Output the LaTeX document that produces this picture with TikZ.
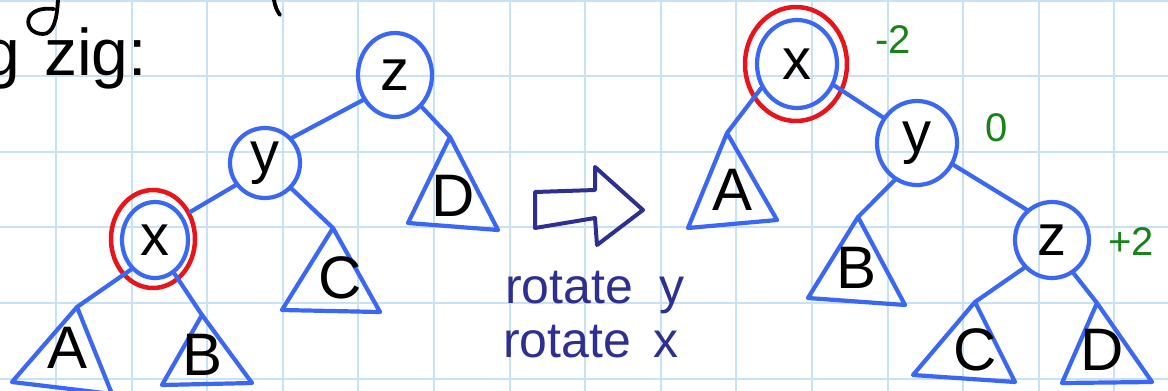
\documentclass[tikz,border=0pt]{standalone}
\usepackage{fontspec}
\setmainfont{Liberation Sans}
\usetikzlibrary{shapes.geometric}
\definecolor{gridc}{RGB}{200,226,245}
\definecolor{tblue}{RGB}{59,103,245}
\definecolor{tred}{RGB}{232,20,28}
\definecolor{tink}{RGB}{45,48,145}
\definecolor{tgreen}{RGB}{25,130,25}
\begin{document}
\begin{tikzpicture}[x=1pt,y=-1pt,line cap=round,line join=round,
  bnode/.style={ellipse,draw=tblue,line width=4.2pt,inner sep=0pt,font=\fontsize{58}{60}\selectfont},
  rnode/.style={ellipse,draw=tred,line width=4.5pt,inner sep=0pt},
  link/.style={draw=tblue,line width=4.2pt},
  tri/.style={draw=tblue,line width=4.2pt},
  leaf/.style={font=\fontsize{60}{62}\selectfont,inner sep=0pt},
  bal/.style={text=tgreen,font=\fontsize{40}{42}\selectfont,inner sep=0pt},
  ink/.style={text=tink,font=\fontsize{50}{52}\selectfont,inner sep=0pt},
  hand/.style={draw=black,line width=3.8pt}]
\useasboundingbox (0,0) rectangle (1168,391);
\clip (0,0) rectangle (1168,391);
\fill[white] (0,0) rectangle (1168,391);
% grid
\foreach \i in {0,...,14} \draw[gridc,line width=2pt] ({56+75.6*\i},0) -- ({56+75.6*\i},391);
\foreach \j in {0,...,5} \draw[gridc,line width=2pt] (0,{0.6+75.6*\j}) -- (1168,{0.6+75.6*\j});
% fragments of the line above
\draw[hand] (58,0) .. controls (57,20) and (53,34) .. (43,34) .. controls (31,34) and (25,24) .. (30,16) .. controls (35,9) and (45,8) .. (54,9);
\draw[hand] (274,0) .. controls (275,6) and (277,11) .. (280,15);
% heading
\node[font=\fontsize{66}{68}\selectfont,anchor=base east,inner sep=0pt] (head) at (147,75) {zig\hspace{24pt}zig:};
% ---------- left tree ----------
\node[bnode,minimum width=74pt,minimum height=84pt] (zl) at (395,75) {z};
\node[bnode,minimum width=70pt,minimum height=70pt] (yl) at (265,163) {y};
\node[bnode,minimum width=66pt,minimum height=76pt] (xl) at (155,240) {x};
\node[rnode,minimum width=84pt,minimum height=98pt] (xlr) at (153,239) {};
\coordinate (Aa) at (77,307); \coordinate (Ab) at (12,382); \coordinate (Ac) at (112,394);
\coordinate (Ba) at (202,315); \coordinate (Bb) at (162,385); \coordinate (Bc) at (252,383);
\coordinate (Ca) at (333,228); \coordinate (Cb) at (282,310); \coordinate (Cc) at (380,312);
\coordinate (Da) at (450,137); \coordinate (Db) at (408,223); \coordinate (Dc) at (498,230);
\draw[tri] (Aa) -- (Ab) -- (Ac) -- cycle;
\draw[tri] (Ba) -- (Bb) -- (Bc) -- cycle;
\draw[tri] (Ca) -- (Cb) -- (Cc) -- cycle;
\draw[tri] (Da) -- (Db) -- (Dc) -- cycle;
\node[leaf] (Al) at (68,348) {A};
\node[leaf] (Bl) at (203,355) {B};
\node[leaf] (Cl) at (340,278) {C};
\node[leaf] (Dl) at (453,196) {D};
\draw[link] (zl.218) -- (yl.43);
\draw[link] (yl.217) -- (xlr.36);
\draw[link] (yl.-44) -- (Ca);
\draw[link] (zl.-50) -- (Da);
\draw[link] (xl.231) -- (Aa);
\draw[link] (xl.-60) -- (Ba);
% ---------- arrow ----------
\draw[draw=tink,line width=4pt] (535,192) -- (595,190) -- (595,167) -- (643,210) -- (597,245) -- (595,218) -- (535,228) -- cycle;
\node[ink,anchor=base west] (r1) at (505,303) {rotate\hspace{26pt}y};
\node[ink,anchor=base west] (r2) at (503,357) {rotate\hspace{22pt}x};
% ---------- right tree ----------
\node[bnode,minimum width=80pt,minimum height=88pt] (xr) at (797,64) {x};
\node[rnode,minimum width=102pt,minimum height=114pt] (xrr) at (796,64) {};
\node[bnode,minimum width=80pt,minimum height=84pt] (yr) at (917,143) {y};
\node[bnode,minimum width=74pt,minimum height=76pt] (zr) at (1052,240) {z};
\node[bal] (b1) at (893,40) {-2};
\node[bal] (b2) at (997,128) {0};
\node[bal] (b3) at (1131,242) {+2};
\coordinate (Ar) at (727,133); \coordinate (Arb) at (688,228); \coordinate (Arc) at (777,220);
\coordinate (Br) at (858,217); \coordinate (Brb) at (808,298); \coordinate (Brc) at (905,305);
\coordinate (Cr) at (975,302); \coordinate (Crb) at (913,375); \coordinate (Crc) at (1015,382);
\coordinate (Dr) at (1097,303); \coordinate (Drb) at (1062,383); \coordinate (Drc) at (1152,382);
\draw[tri] (Ar) -- (Arb) -- (Arc) -- cycle;
\draw[tri] (Br) -- (Brb) -- (Brc) -- cycle;
\draw[tri] (Cr) -- (Crb) -- (Crc) -- cycle;
\draw[tri] (Dr) -- (Drb) -- (Drc) -- cycle;
\node[leaf] (Arl) at (733,190) {A};
\node[leaf] (Brl) at (857,268) {B};
\node[leaf] (Crl) at (975,350) {C};
\node[leaf] (Drl) at (1102,350) {D};
\draw[link] (xr.-30) -- (yr.143);
\draw[link] (xr.214) -- (Ar);
\draw[link] (yr.239) -- (Br);
\draw[link] (yr.-31) -- (zr.130);
\draw[link] (zr.225) -- (Cr);
\draw[link] (zr.-57) -- (Dr);
\end{tikzpicture}
\end{document}
